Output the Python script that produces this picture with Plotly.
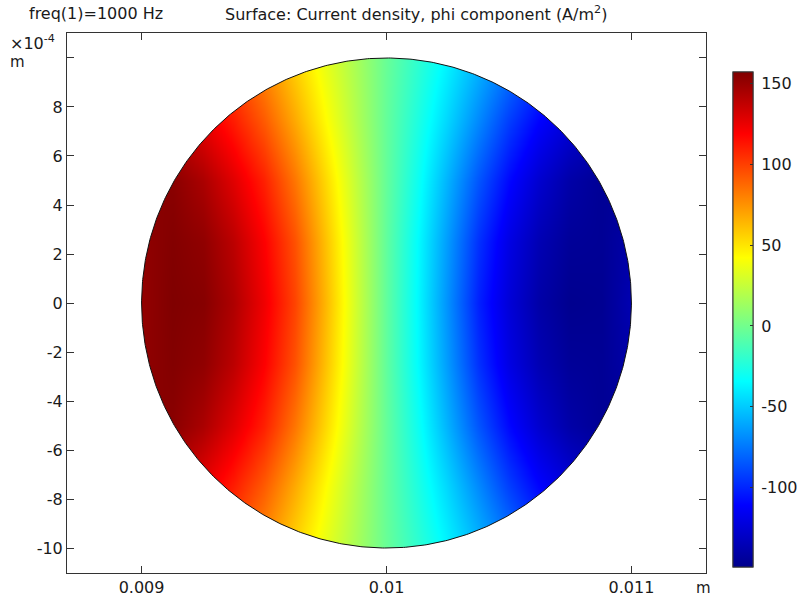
import numpy as np
import plotly.graph_objects as go

# ---- data ----
x_cols = [0.009, 0.009125, 0.00925, 0.009375, 0.0095, 0.009625, 0.00975, 0.009875, 0.01,
          0.010125, 0.01025, 0.010375, 0.0105, 0.010625, 0.01075, 0.010875, 0.011]
y_rows = [-0.001, -0.00075, -0.0005, -0.00025, 0.0, 0.00025, 0.0005, 0.00075, 0.001]

row_y10 = [134, 122, 108, 94, 75, 55, 35, 16, -3, -20, -37, -55, -73, -91, -107, -120, -130]
row_y75 = [150, 140, 125, 110, 91, 68, 43, 19, -4, -25, -46, -69, -92, -110, -124, -135, -142]
row_y5 = [156, 154, 144, 128, 109, 84, 54, 24, -4, -30, -57, -85, -109, -127, -140, -146, -146]
row_y25 = [152, 156, 152, 139, 119, 95, 61, 27, -5, -34, -64, -96, -120, -136, -145, -146, -139]
row_y0 = [151, 157, 155, 143, 123, 99, 64, 28, -5, -35, -67, -101, -124, -140, -148, -147, -136]

z_grid = [row_y10, row_y75, row_y5, row_y25, row_y0, row_y25, row_y5, row_y75, row_y10]

z_min, z_max = -149, 157
cbar_ticks = [-100, -50, 0, 50, 100, 150]
cbar_text = ["-100", "-50", "0", "50", "100", "150"]

x_tickvals = [0.009, 0.01, 0.011]
x_ticktext = ["0.009", "0.01", "0.011"]
y_tickvals = [-0.001, -0.0008, -0.0006, -0.0004, -0.0002, 0.0, 0.0002, 0.0004, 0.0006, 0.0008, 0.001]
y_ticktext = ["-10", "-8", "-6", "-4", "-2", "0", "2", "4", "6", "8", ""]

# geometry of the cross-section
cx, cy, radius = 0.01, 0.0, 0.001

FONT = "DejaVu Sans"
TXT = "#1a1a1a"
AX = "#333333"

jet = [
    [0.0, "rgb(0,0,140)"],
    [0.125, "rgb(0,0,255)"],
    [0.375, "rgb(0,255,255)"],
    [0.625, "rgb(255,255,0)"],
    [0.875, "rgb(255,0,0)"],
    [1.0, "rgb(128,0,0)"],
]

# plot area in pixels
PL, PR, PT, PB = 67, 706, 33, 573
PW, PH = PR - PL, PB - PT
W, H = 802, 598


def px(xp):
    return (xp - PL) / PW


def py(yp):
    return (PB - yp) / PH


cb_common = dict(
    x=px(733), xanchor="left", xpad=0, ypad=0,
    y=py(319.5), yanchor="middle",
    len=495 / PH, lenmode="fraction", thickness=20, thicknessmode="pixels",
    outlinecolor=AX, outlinewidth=1, tickvals=cbar_ticks, ticktext=cbar_text,
    tickfont=dict(family=FONT, size=16, color=TXT),
)

fig = go.Figure()

fig.add_trace(go.Heatmap(
    x=x_cols, y=y_rows, z=z_grid,
    zmin=z_min, zmax=z_max, colorscale=jet, zsmooth="best",
    hoverinfo="skip",
    colorbar=dict(ticks="outside", ticklen=5, tickcolor="rgba(0,0,0,0)", **cb_common),
))

# second (label-less) colorbar only to draw the small inside tick marks
fig.add_trace(go.Scatter(
    x=[None, None], y=[None, None], mode="markers", hoverinfo="skip", showlegend=False,
    marker=dict(color=[z_min, z_max], cmin=z_min, cmax=z_max, colorscale=jet, showscale=True,
                colorbar=dict(ticks="inside", ticklen=3, tickcolor=AX, showticklabels=False,
                              **cb_common)),
))

# white mask outside the circle (keyhole polygon)
th = np.linspace(np.pi, 3 * np.pi, 721)
xl, xr, yb, yt = 0.0085, 0.0115, -0.0013, 0.0013
mx = [xl, xl, xr, xr, xl, xl] + list(cx + radius * np.cos(th)) + [xl]
my = [0, yt, yt, yb, yb, 0] + list(cy + radius * np.sin(th)) + [0]
fig.add_trace(go.Scatter(x=mx, y=my, mode="lines", fill="toself", fillcolor="white",
                         line=dict(width=0, color="white"), hoverinfo="skip", showlegend=False))

# circle outline
fig.add_trace(go.Scatter(x=cx + radius * np.cos(th), y=cy + radius * np.sin(th), mode="lines",
                         line=dict(color="#111111", width=1), hoverinfo="skip", showlegend=False))

axis_common = dict(showline=True, linecolor=AX, linewidth=1, mirror="ticks", ticks="inside",
                   ticklen=7, tickcolor=AX, showgrid=False, zeroline=False,
                   tickfont=dict(family=FONT, size=16, color=TXT))

fig.update_layout(
    width=W, height=H,
    margin=dict(l=PL, r=W - PR, t=PT, b=H - PB, autoexpand=False),
    paper_bgcolor="white", plot_bgcolor="white",
    showlegend=False,
    xaxis=dict(range=[0.01 - 0.0013045, 0.01 + 0.0013045], tickvals=x_tickvals,
               ticktext=x_ticktext, **axis_common),
    yaxis=dict(range=[-0.001102, 0.001102], tickvals=y_tickvals, ticktext=y_ticktext,
               **axis_common),
    font=dict(family=FONT, size=16, color=TXT),
    annotations=[
        dict(text="freq(1)=1000 Hz", xref="paper", yref="paper", x=px(27), y=py(14),
             xanchor="left", yanchor="middle", showarrow=False,
             font=dict(family=FONT, size=16, color=TXT)),
        dict(text="Surface: Current density, phi component (A/m<sup>2</sup>)", xref="paper",
             yref="paper", x=px(415.5), y=py(14), xanchor="center",
             yanchor="middle", showarrow=False, font=dict(family=FONT, size=16, color=TXT)),
        dict(text="×10<sup>-4</sup>", xref="paper", yref="paper", x=px(8), y=py(42),
             xanchor="left", yanchor="middle", showarrow=False,
             font=dict(family=FONT, size=16, color=TXT)),
        dict(text="m", xref="paper", yref="paper", x=px(8), y=py(62),
             xanchor="left", yanchor="middle", showarrow=False,
             font=dict(family=FONT, size=15, color=TXT)),
        dict(text="m", xref="paper", yref="paper", x=px(703), y=py(588),
             xanchor="center", yanchor="middle", showarrow=False,
             font=dict(family=FONT, size=15, color=TXT)),
    ],
)

fig.write_html("out.html", config={"displayModeBar": False},
               post_script="document.body.style.margin='0px';")
